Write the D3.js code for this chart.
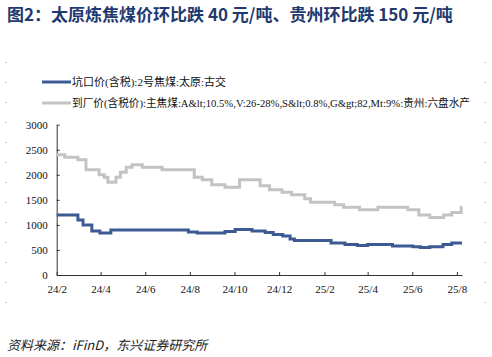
<!DOCTYPE html>
<html><head><meta charset="utf-8">
<script src="https://cdn.jsdelivr.net/npm/d3@7"></script>
<style>body{margin:0;background:#fff}svg{display:block}</style>
</head><body>
<svg id="c" width="492" height="357"></svg>
<script>
const titleText = "图2：太原炼焦煤价环比跌 40 元/吨、贵州环比跌 150 元/吨";
const sourceText = "资料来源：iFinD，东兴证券研究所";
const seriesNames = ["坑口价(含税):2号焦煤:太原:古交",
  "到厂价(含税价):主焦煤:A&lt;10.5%,V:26-28%,S&lt;0.8%,G&gt;82,Mt:9%:贵州:六盘水产"];
const xTickLabels = ["24/2","24/4","24/6","24/8","24/10","24/12","25/2","25/4","25/6","25/8"];
const xTickDates = ["2024-02-01","2024-04-01","2024-06-01","2024-08-01","2024-10-01","2024-12-01","2025-02-01","2025-04-01","2025-06-01","2025-08-01"];
const yTicks = [0,500,1000,1500,2000,2500,3000];

// 太原古交 (step change dates and values)
const taiyuanDates = ["2024-02-01","2024-03-01","2024-03-08","2024-03-20","2024-03-31","2024-04-15","2024-07-30","2024-08-11","2024-09-18","2024-10-02","2024-10-25","2024-11-12","2024-11-23","2024-12-06","2024-12-16","2024-12-22","2025-02-10","2025-03-01","2025-03-18","2025-04-01","2025-05-05","2025-06-02","2025-06-12","2025-06-25","2025-07-13","2025-07-25","2025-08-08"];
const taiyuanValues = [1200,1100,1000,880,840,900,860,840,870,910,880,850,810,780,720,690,640,610,590,610,580,565,550,565,610,640,640];

// 贵州六盘水
const guizhouDates = ["2024-02-01","2024-02-12","2024-03-01","2024-03-12","2024-03-30","2024-04-06","2024-04-11","2024-04-22","2024-04-28","2024-05-06","2024-05-14","2024-05-28","2024-06-24","2024-08-07","2024-08-18","2024-08-31","2024-09-18","2024-10-08","2024-11-05","2024-11-18","2024-12-05","2024-12-18","2025-01-05","2025-01-13","2025-02-15","2025-02-27","2025-03-21","2025-04-15","2025-05-26","2025-06-10","2025-06-25","2025-07-14","2025-07-25","2025-08-07","2025-08-08"];
const guizhouValues = [2400,2350,2300,2100,2000,1950,1850,1950,2050,2150,2200,2150,2100,1950,1900,1800,1750,1900,1780,1700,1650,1600,1520,1450,1400,1350,1300,1350,1300,1200,1150,1200,1250,1350,1350];

const parse = d3.timeParse("%Y-%m-%d");
const svg = d3.select("#c");
const serif = "'Liberation Serif', 'Noto Sans CJK SC', serif";
const sans = "'Noto Sans CJK SC', 'Liberation Sans', sans-serif";

// decorative frame dots
const dotYs = d3.range(62, 305, 20);
svg.selectAll("rect.dl").data(dotYs).join("rect").attr("x",5).attr("y",d=>d).attr("width",2).attr("height",1).attr("fill","#c8c8c8");
svg.selectAll("rect.dr").data(dotYs).join("rect").attr("x",484).attr("y",d=>d).attr("width",2).attr("height",1).attr("fill","#c8c8c8");

svg.append("text").attr("x",7).attr("y",21).style("font-family",sans).attr("font-weight","bold")
  .attr("font-size",17).attr("fill","#1f3a6e").text(titleText);

const x = d3.scaleTime().domain([parse("2024-02-01"), parse("2025-08-08")]).range([56.7, 462]);
const y = d3.scaleLinear().domain([0,3000]).range([275, 124.7]);

const xAxis = d3.axisBottom(x).tickValues(xTickDates.map(parse)).tickSize(-3).tickSizeOuter(0)
  .tickFormat((d,i)=>xTickLabels[i]);
const gx = svg.append("g").attr("transform","translate(0,275)").call(xAxis);
gx.attr("font-family", null);
gx.select(".domain").attr("stroke","#333");
gx.selectAll(".tick line").attr("stroke","#333");
gx.selectAll("text").style("font-family",serif).attr("font-size",11).attr("fill","#111").attr("dy",0).attr("y",18);

const yAxis = d3.axisLeft(y).tickValues(yTicks).tickSize(-3).tickSizeOuter(0).tickFormat(d3.format("d"));
const gy = svg.append("g").attr("transform","translate(56.7,0)").call(yAxis);
gy.attr("font-family", null);
gy.select(".domain").attr("stroke","#333");
gy.selectAll(".tick line").attr("stroke","#333");
gy.selectAll("text").style("font-family",serif).attr("font-size",11).attr("fill","#111").attr("x",-9);

const line = d3.line().x(d=>x(d[0])).y(d=>y(d[1])).curve(d3.curveStepAfter);
const gz = guizhouDates.map((d,i)=>[parse(d), guizhouValues[i]]);
const ty = taiyuanDates.map((d,i)=>[parse(d), taiyuanValues[i]]);
svg.append("path").datum(gz).attr("d",line).attr("fill","none").attr("stroke","#c3c3c3").attr("stroke-width",3);
svg.append("path").datum(ty).attr("d",line).attr("fill","none").attr("stroke","#3c5b93").attr("stroke-width",3);

// legend
const legColors = ["#3c5b93","#c3c3c3"];
const legYs = [82, 103];
const legLen = [null, 398];
seriesNames.forEach((n,i)=>{
  svg.append("line").attr("x1",42).attr("x2",71).attr("y1",legYs[i]).attr("y2",legYs[i])
    .attr("stroke",legColors[i]).attr("stroke-width",3);
  const t = svg.append("text").attr("x",72).attr("y",legYs[i]+4).style("font-family",serif).attr("font-size",11)
    .attr("fill","#111").text(n);
  if (legLen[i]) t.attr("textLength",legLen[i]).attr("lengthAdjust","spacingAndGlyphs");
});

svg.append("text").attr("x",7).attr("y",350).style("font-family",sans).attr("font-style","italic")
  .attr("font-size",13).attr("fill","#222").text(sourceText);
</script>
</body></html>
